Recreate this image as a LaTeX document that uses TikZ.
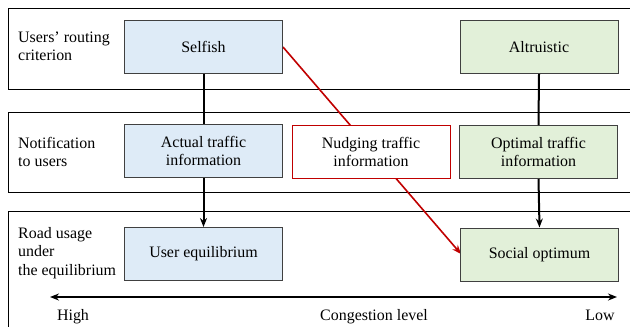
\documentclass[tikz,border=0pt]{standalone}
\usepackage{fontspec}
\setmainfont{Liberation Serif}
\usetikzlibrary{arrows.meta}
\definecolor{selfblue}{HTML}{DEEBF7}
\definecolor{altgreen}{HTML}{E2F0D9}
\definecolor{nudgered}{HTML}{C00000}
\definecolor{boxgray}{HTML}{404040}
\tikzset{
  txt/.style={font=\fontsize{16}{18.5}\selectfont},
  band/.style={draw=black, line width=0.9bp},
  cbox/.style={txt, draw=boxgray, line width=1bp, minimum width=158bp, minimum height=53bp,
    inner sep=0pt, align=center},
  bluebox/.style={cbox, fill=selfblue},
  greenbox/.style={cbox, fill=altgreen},
  redbox/.style={cbox, draw=nudgered, fill=white},
  rowlabel/.style={txt, anchor=west, align=left, inner sep=0pt},
  axislabel/.style={txt, anchor=base, inner sep=0pt},
  link/.style={line width=2bp, black},
  tip/.style={-{Stealth[length=9bp,width=7bp]}},
}
\begin{document}
\begin{tikzpicture}[x=1bp, y=-1bp]
  \useasboundingbox (0,0) rectangle (630,326);
  \begin{scope}
    \clip (0,0) rectangle (630,326);
    % three horizontal bands, open to the right
    \draw[band] (8,8) rectangle (640,89);
    \draw[band] (8,112) rectangle (640,192);
    \draw[band] (8,211) rectangle (640,340);
  \end{scope}

  % row captions
  \node[rowlabel] (r1) at (18,46) {Users’ routing\\criterion};
  \node[rowlabel] (r2) at (18,152) {Notification\\to users};
  \node[rowlabel] (r3) at (18,253) {Road usage\\under\\the equilibrium};

  % red path from selfish routing to the social optimum, behind the boxes
  \coordinate (redstart) at (283,47);
  \coordinate (redend) at (461,254);
  \draw[nudgered, line width=1.6bp, tip] (redstart) -- (redend);

  % boxes
  \node[bluebox] (self) at (203.5,46.5) {Selfish};
  \node[greenbox] (alt) at (539,47) {Altruistic};
  \node[bluebox] (act) at (203.5,151) {Actual traffic\\information};
  \node[redbox] (nud) at (371,152) {Nudging traffic\\information};
  \node[greenbox] (opt) at (538.5,152) {Optimal traffic\\information};
  \node[bluebox] (ue) at (203.5,254) {User equilibrium};
  \node[greenbox] (so) at (539.5,254.5) {Social optimum};

  % vertical connectors
  \draw[link] (self.south) -- (act.north);
  \draw[link, tip] (act.south) -- (ue.north);
  \draw[link] (alt.south) -- (opt.north);
  \draw[link, tip] (opt.south) -- (so.north);

  % congestion axis
  \coordinate (hi) at (50,297);
  \coordinate (lo) at (617,297);
  \draw[line width=2bp, {Stealth[length=9bp,width=7bp]}-{Stealth[length=9bp,width=7bp]}] (hi) -- (lo);
  \node[axislabel] (high) at (73,320) {High};
  \node[axislabel] (cong) at (374,320) {Congestion level};
  \node[axislabel] (low) at (600,320) {Low};
\end{tikzpicture}
\end{document}
